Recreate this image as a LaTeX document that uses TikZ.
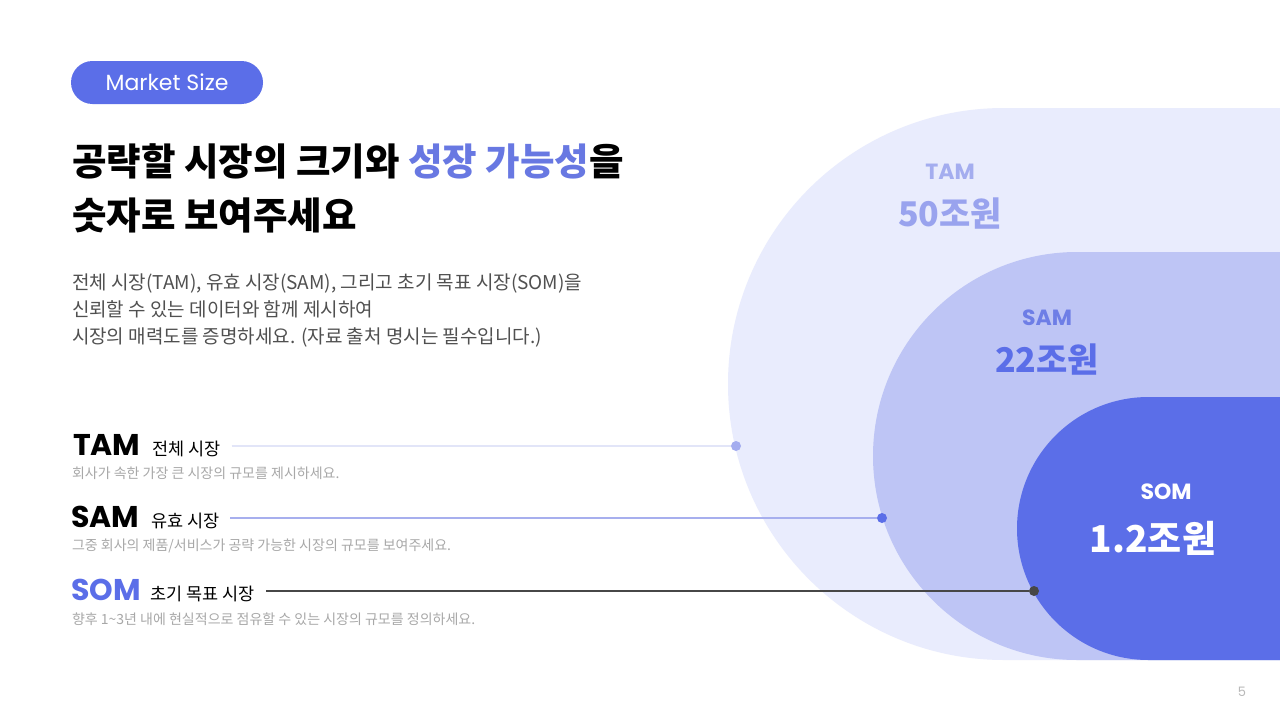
\documentclass[tikz,border=0pt]{standalone}
\usepackage{fontspec}
\setmainfont{Noto Sans CJK KR}
\newfontfamily\kr{Noto Sans CJK KR}
\newfontfamily\latin{Poppins}
\usepackage{xcolor}
\usetikzlibrary{positioning}

\definecolor{brand}{HTML}{5B6EE8}
\definecolor{tamfill}{HTML}{E9ECFD}
\definecolor{samfill}{HTML}{BEC5F5}
\definecolor{tamtext}{HTML}{A4ADEF}
\definecolor{samtext}{HTML}{6E7EE6}
\definecolor{titleblue}{HTML}{6878E2}
\definecolor{bodygray}{HTML}{505050}
\definecolor{descgray}{HTML}{A8A8A8}
\definecolor{tamline}{HTML}{E2E5F8}
\definecolor{samline}{HTML}{A7AFEE}
\definecolor{somline}{HTML}{474747}

\begin{document}
\begin{tikzpicture}[x=1pt,y=-1pt]
			\tikzstyle{every node} = [inner sep=0pt, outer sep=0pt]
			\tikzstyle{rowlabel} = [font=\latin\bfseries\fontsize{30}{32}\selectfont]
			\tikzstyle{rowsub} = [font=\kr\fontsize{17.5}{20}\selectfont]
			\tikzstyle{rowdesc} = [anchor=base west, text=descgray, font=\kr\fontsize{14}{16}\selectfont]
			\tikzstyle{marker} = [circle, minimum size=10pt]
			\tikzstyle{bigname} = [font=\latin\bfseries\fontsize{22}{24}\selectfont]
			\tikzstyle{bigvalue} = [font=\kr\bfseries\fontsize{34}{36}\selectfont]
				\path[fill=white] (0,0) rectangle (1280,720);
				\useasboundingbox (0,0) rectangle (1280,720);
				\path[fill=tamfill] (1280,108) -- (1004,108) arc (270:90:276) -- (1280,660) -- cycle;
				\path[fill=samfill] (1280,252) -- (1077,252) arc (270:90:204) -- (1280,660) -- cycle;
				\path[fill=brand] (1280,397) -- (1148.5,397) arc (270:90:131.5) -- (1280,660) -- cycle;
				\node[fill=brand, rounded corners=21.5pt, minimum width=192pt, minimum height=43pt,
					text=white, font=\latin\fontsize{22}{24}\selectfont] (badge) at (167,82.5) {Market Size};
				\node[anchor=base west, align=left, font=\kr\bfseries\fontsize{37.5}{54}\selectfont]
					(title) at (72,229) {공략할 시장의 크기와 \textcolor{titleblue}{성장 가능성}을\\숫자로 보여주세요};
				\node[anchor=base west, align=left, text=bodygray, font=\kr\fontsize{19}{27}\selectfont]
					(intro) at (72,343) {전체 시장(TAM), 유효 시장(SAM), 그리고 초기 목표 시장(SOM)을\\신뢰할 수 있는 데이터와 함께 제시하여\\시장의 매력도를 증명하세요. (자료 출처 명시는 필수입니다.)};
				\node[rowlabel, anchor=base west] (tamlbl) at (73,455) {TAM};
				\node[rowsub, base right=12pt of tamlbl] (tamsub) {전체 시장};
				\node[rowdesc] (tamdesc) at (72,478) {회사가 속한 가장 큰 시장의 규모를 제시하세요.};
				\node[rowlabel, anchor=base west] (samlbl) at (71,527) {SAM};
				\node[rowsub, base right=12pt of samlbl] (samsub) {유효 시장};
				\node[rowdesc] (samdesc) at (72,550) {그중 회사의 제품/서비스가 공략 가능한 시장의 규모를 보여주세요.};
				\node[rowlabel, anchor=base west, text=brand] (somlbl) at (71,600) {SOM};
				\node[rowsub, base right=10pt of somlbl] (somsub) {초기 목표 시장};
				\node[rowdesc] (somdesc) at (72,624) {향후 1\textasciitilde3년 내에 현실적으로 점유할 수 있는 시장의 규모를 정의하세요.};
				\node[marker, fill=tamtext] (tamdot) at (736,446) {};
				\node[marker, fill=brand] (samdot) at (882,518) {};
				\node[marker, fill=somline] (somdot) at (1034,591) {};
				\path[draw, tamline, line width=1.2pt] ([xshift=11pt]tamsub.east |- tamdot) -- (tamdot);
				\path[draw, samline, line width=1.2pt] ([xshift=11pt]samsub.east |- samdot) -- (samdot);
				\path[draw, somline, line width=1.4pt] ([xshift=11pt]somsub.east |- somdot) -- (somdot);
				\node[bigname, text=tamtext] (tamname) at (950,172) {TAM};
				\node[bigvalue, text=tamtext!85!brand] (tamvalue) at (950,214) {50조원};
				\node[bigname, text=samtext] (samname) at (1047,318) {SAM};
				\node[bigvalue, text=brand] (samvalue) at (1047,360) {22조원};
				\node[bigname, text=white] (somname) at (1166,492) {SOM};
				\node[bigvalue, text=white, font=\kr\bfseries\fontsize{37}{40}\selectfont] (somvalue) at (1153,538) {1.2조원};
				\node[text=descgray!80, font=\latin\fontsize{13}{15}\selectfont] (pagenum) at (1242,692) {5};
		\end{tikzpicture}
\end{document}
